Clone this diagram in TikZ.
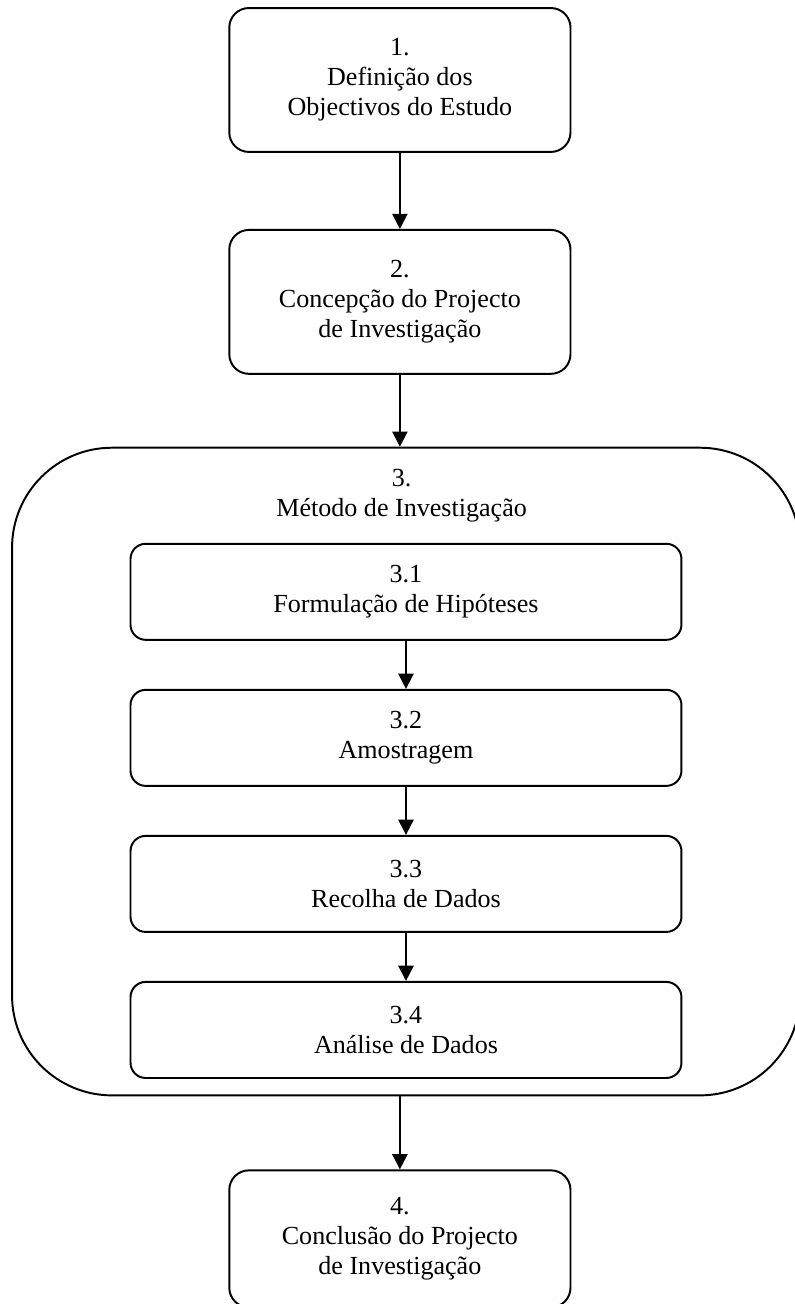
\documentclass[tikz,border=0pt]{standalone}
\usepackage{fontspec}
\setmainfont{Liberation Serif}
\usetikzlibrary{arrows.meta,positioning}

\begin{document}
\begin{tikzpicture}[
  node distance=35pt,
  stage/.style={draw,line width=0.9pt,rounded corners=9pt,minimum width=157pt,minimum height=66.2pt,align=center,font=\fontsize{12}{13.8}\selectfont},
  substage/.style={stage,rounded corners=7pt,minimum width=253.5pt,minimum height=44.2pt},
  phase/.style={draw,line width=0.9pt,rounded corners=46pt,minimum width=362.5pt,minimum height=298pt},
  arrow/.style={-{Triangle[length=7pt,width=7pt]},line width=0.9pt}
]
  \useasboundingbox (0,0) rectangle (365.7pt,-600pt);
  \node[stage] (objectivos) at (184pt,-36.8pt) {1.\\Definição dos\\Objectivos do Estudo};
  \node[stage,below=of objectivos] (concepcao) {2.\\Concepção do Projecto\\de Investigação};
  \node[phase,below=33.1pt of concepcao,xshift=2.8pt] (metodo) {};
  \node[font=\fontsize{12}{13.8}\selectfont,align=center] (metodotitle) at ([yshift=-22.5pt,xshift=-2pt]metodo.north) {3.\\Método de Investigação};
  \node[substage,below=44.2pt of metodo.north] (hipoteses) {3.1\\Formulação de Hipóteses};
  \node[substage,below=22.1pt of hipoteses] (amostragem) {3.2\\Amostragem};
  \node[substage,below=22.1pt of amostragem] (recolha) {3.3\\Recolha de Dados};
  \node[substage,below=22.1pt of recolha] (analise) {3.4\\Análise de Dados};
  \node[stage,minimum height=63pt,below=33.6pt of metodo,xshift=-2.8pt] (conclusao) {4.\\Conclusão do Projecto\\de Investigação};
  \draw[arrow] (objectivos) -- (concepcao);
  \draw[arrow] (concepcao.south) -- (concepcao.south |- metodo.north);
  \draw[arrow] (hipoteses) -- (amostragem);
  \draw[arrow] (amostragem) -- (recolha);
  \draw[arrow] (recolha) -- (analise);
  \draw[arrow] (conclusao.north |- metodo.south) -- (conclusao.north);
\end{tikzpicture}
\end{document}
